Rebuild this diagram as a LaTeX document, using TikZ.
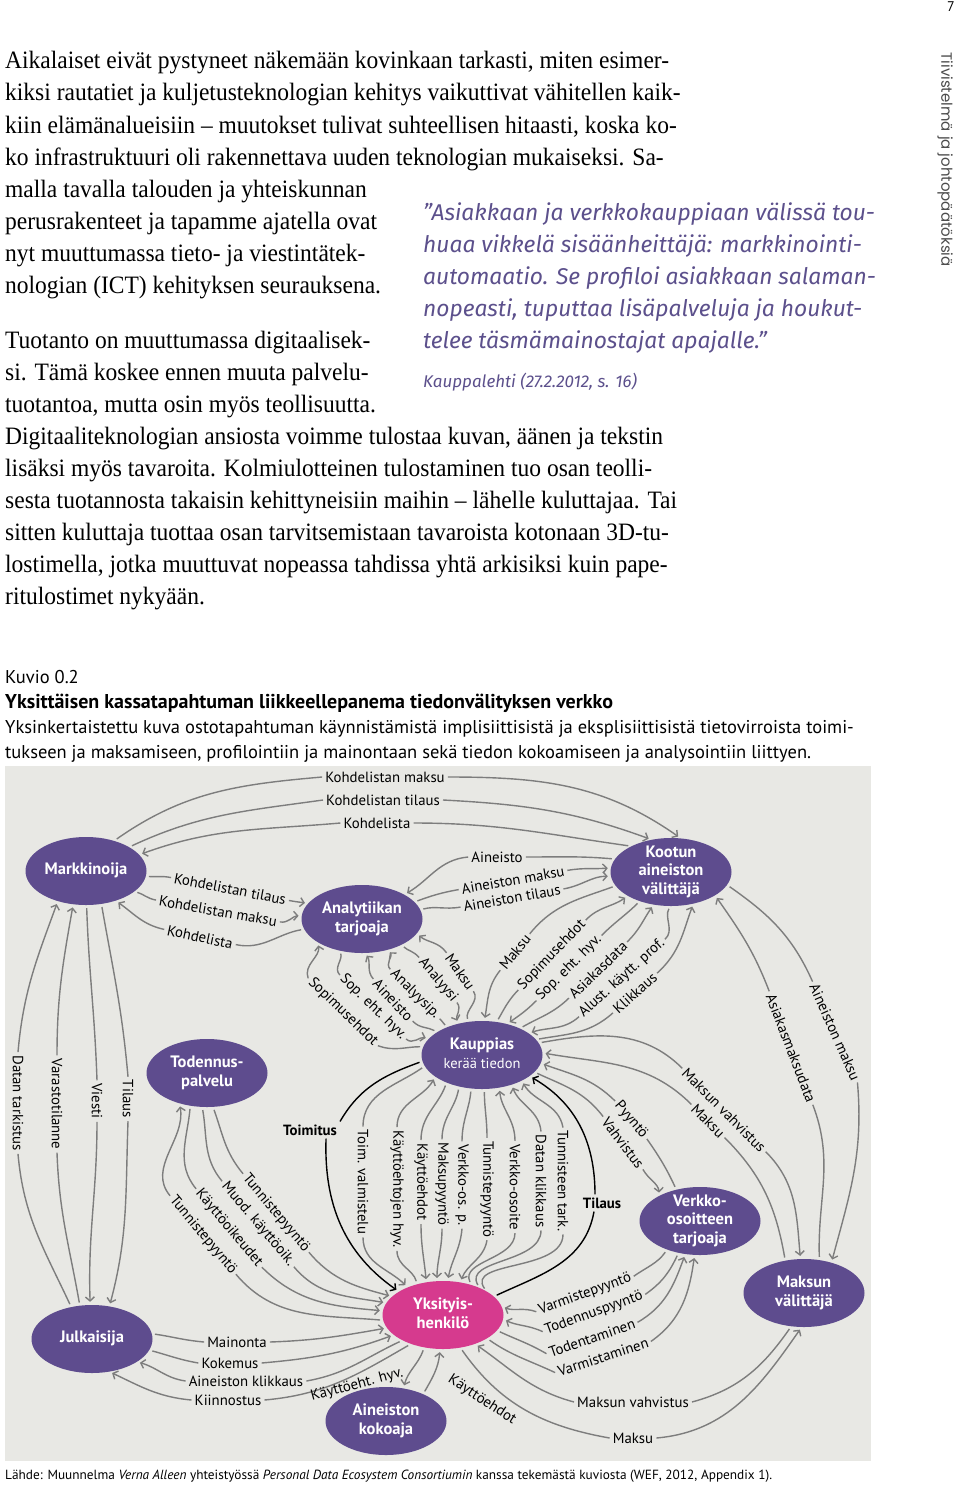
\documentclass[tikz,border=0pt]{standalone}
\usepackage{fontspec}
\setmainfont{Liberation Serif}
\newfontfamily\dsf{PT Sans}
\newfontfamily\bodyf[FakeStretch=0.94]{Liberation Serif}
\newfontfamily\qf{Fira Sans}
\newfontfamily\sidef{Poppins}
\usetikzlibrary{shapes.geometric,arrows.meta}
\definecolor{purp}{RGB}{94,76,142}
\definecolor{pinkn}{RGB}{214,58,142}
\definecolor{eg}{RGB}{125,125,125}
\definecolor{figbg}{RGB}{232,232,228}
\definecolor{quotec}{RGB}{92,80,140}
\newcommand\ntx[1]{\smash{\raisebox{-4.5pt}{\begin{tabular}{@{}c@{}}#1\end{tabular}}}}
\tikzset{
  actor/.style={ellipse, fill=purp, minimum width=121pt, minimum height=68pt, inner sep=0pt,
    text=white, font={\dsf\bfseries\fontsize{16.5}{18.5}\selectfont}},
  lb/.style={font={\dsf\fontsize{14.8}{16}\selectfont}, inner sep=3pt},
  lbb/.style={font={\dsf\bfseries\fontsize{14.8}{16}\selectfont}, inner sep=3pt},
  ln/.style={draw=eg, line width=1.4pt, shorten <=3pt},
  ar/.style={draw=eg, line width=1.4pt, shorten >=3pt, -{Straight Barb[length=4pt,width=9pt]}},
  lnk/.style={draw=black, line width=1.4pt, shorten <=3pt},
  ark/.style={draw=black, line width=1.4pt, shorten >=3pt, -{Straight Barb[length=4pt,width=9pt]}},
  bodytxt/.style={anchor=base west, inner sep=0pt, font={\bodyf\fontsize{25}{27}\selectfont}},
  qtxt/.style={anchor=base west, inner sep=0pt, text=quotec, font={\qf\itshape\fontsize{22.8}{25}\selectfont}},
  captxt/.style={anchor=base west, inner sep=0pt, font={\dsf\fontsize{18.5}{20}\selectfont}},
}
\begin{document}
\begin{tikzpicture}[x=1pt,y=1pt]
\useasboundingbox (0,0) rectangle (960,-1485);
\fill[white] (0,0) rectangle (960,-1485);

% page number and side text
\node[font={\dsf\fontsize{14}{16}\selectfont}] (pg) at (951,-7) {7};
\node[rotate=-90, anchor=west, text=black!70, font={\sidef\fontsize{15}{17}\selectfont}] (side) at (945,-49) {Tiivistelmä ja johtopäätöksiä};

% body text
\node[bodytxt] (b1) at (5,-69) {Aikalaiset eivät pystyneet näkemään kovinkaan tarkasti, miten esimer-};
\node[bodytxt] (b2) at (5,-101) {kiksi rautatiet ja kuljetusteknologian kehitys vaikuttivat vähitellen kaik-};
\node[bodytxt] (b3) at (5,-133) {kiin elämänalueisiin – muutokset tulivat suhteellisen hitaasti, koska ko-};
\node[bodytxt] (b4) at (5,-165) {ko infrastruktuuri oli rakennettava uuden teknologian mukaiseksi. Sa-};
\node[bodytxt] (b5) at (5,-197) {malla tavalla talouden ja yhteiskunnan};
\node[bodytxt] (b6) at (5,-229) {perusrakenteet ja tapamme ajatella ovat};
\node[bodytxt] (b7) at (5,-261) {nyt muuttumassa tieto- ja viestintätek-};
\node[bodytxt] (b8) at (5,-293) {nologian (ICT) kehityksen seurauksena.};
\node[bodytxt] (b9) at (5,-348) {Tuotanto on muuttumassa digitaalisek-};
\node[bodytxt] (b10) at (5,-380) {si. Tämä koskee ennen muuta palvelu-};
\node[bodytxt] (b11) at (5,-412) {tuotantoa, mutta osin myös teollisuutta.};
\node[bodytxt] (b12) at (5,-444) {Digitaaliteknologian ansiosta voimme tulostaa kuvan, äänen ja tekstin};
\node[bodytxt] (b13) at (5,-476) {lisäksi myös tavaroita. Kolmiulotteinen tulostaminen tuo osan teolli-};
\node[bodytxt] (b14) at (5,-508) {sesta tuotannosta takaisin kehittyneisiin maihin – lähelle kuluttajaa. Tai};
\node[bodytxt] (b15) at (5,-540) {sitten kuluttaja tuottaa osan tarvitsemistaan tavaroista kotonaan 3D-tu-};
\node[bodytxt] (b16) at (5,-572) {lostimella, jotka muuttuvat nopeassa tahdissa yhtä arkisiksi kuin pape-};
\node[bodytxt] (b17) at (5,-604) {ritulostimet nykyään.};

% quote
\node[qtxt] (q1) at (423,-220) {”Asiakkaan ja verkkokauppiaan välissä tou-};
\node[qtxt] (q2) at (423,-252) {huaa vikkelä sisäänheittäjä: markkinointi-};
\node[qtxt] (q3) at (423,-284) {automaatio. Se profiloi asiakkaan salaman-};
\node[qtxt] (q4) at (423,-316) {nopeasti, tuputtaa lisäpalveluja ja houkut-};
\node[qtxt] (q5) at (423,-348) {telee täsmämainostajat apajalle.”};
\node[qtxt, font={\qf\itshape\fontsize{17}{19}\selectfont}] (q6) at (423,-387) {Kauppalehti (27.2.2012, s. 16)};

% caption
\node[captxt] (c0) at (5,-683) {Kuvio 0.2};
\node[captxt, font={\dsf\bfseries\fontsize{20}{22}\selectfont}] (ct) at (5,-708) {Yksittäisen kassatapahtuman liikkeellepanema tiedonvälityksen verkko};
\node[captxt] (cd1) at (5,-733) {Yksinkertaistettu kuva ostotapahtuman käynnistämistä implisiittisistä ja eksplisiittisistä tietovirroista toimi-};
\node[captxt] (cd2) at (5,-758) {tukseen ja maksamiseen, profilointiin ja mainontaan sekä tiedon kokoamiseen ja analysointiin liittyen.};
\node[captxt, font={\dsf\fontsize{13.3}{15}\selectfont}] (src) at (5,-1479) {Lähde: Muunnelma \textit{Verna Alleen} yhteistyössä \textit{Personal Data Ecosystem Consortiumin} kanssa tekemästä kuviosta (WEF, 2012, Appendix 1).};

% figure background
\fill[figbg] (5,-766) rectangle (871,-1461);

% actors
\node[actor] (M) at (86,-871) {\ntx{Markkinoija}};
\node[actor] (A) at (362,-919) {\ntx{Analytiikan\\tarjoaja}};
\node[actor] (K) at (671,-872) {\ntx{Kootun\\aineiston\\välittäjä}};
\node[actor] (P) at (482,-1055) {\ntx{Kauppias\\\mdseries\fontsize{14.5}{16}\selectfont kerää tiedon}};
\node[actor] (T) at (207,-1073) {\ntx{Todennus-\\palvelu}};
\node[actor] (V) at (700,-1221) {\ntx{Verkko-\\osoitteen\\tarjoaja}};
\node[actor] (MV) at (804,-1293) {\ntx{Maksun\\välittäjä}};
\node[actor] (J) at (92,-1339) {\ntx{Julkaisija}};
\node[actor, fill=pinkn] (Y) at (443,-1315) {\ntx{Yksityis-\\henkilö}};
\node[actor] (AK) at (386,-1421) {\ntx{Aineiston\\kokoaja}};

% top arcs M <-> K
\node[lb] (t1) at (385,-777) {Kohdelistan maksu};
\node[lb] (t2) at (383,-800) {Kohdelistan tilaus};
\node[lb] (t3) at (377,-823) {Kohdelista};
\draw[ln] (M.47) to[out=35,in=185] (t1.west);
\draw[ar] (t1.east) to[out=0,in=145] (K.74);
\draw[ln] (M.29) to[out=25,in=188] (t2.west);
\draw[ar] (t2.east) to[out=-3,in=160] (K.121);
\draw[ln] (K.147) to[out=172,in=0] (t3.east);
\draw[ar] (t3.west) to[out=185,in=20] (M.17);

% M <-> A
\node[lb,rotate=-11] (m1) at (230,-889) {Kohdelistan tilaus};
\node[lb,rotate=-10] (m2) at (218,-911) {Kohdelistan maksu};
\node[lb,rotate=-12] (m3) at (200,-937) {Kohdelista};
\draw[ln] (M.-5) to[out=-5,in=169] (m1.west);
\draw[ar] (m1.east) to[out=-11,in=170] (A.164);
\draw[ln] (M.-23) to[out=-15,in=170] (m2.west);
\draw[ar] (m2.east) to[out=-10,in=180] (A.177);
\draw[ln] (A.190) to[out=190,in=-12] (m3.east);
\draw[ar] (m3.west) to[out=168,in=-35] (M.-45);

% A <-> K
\node[lb] (a1) at (497,-857) {Aineisto};
\node[lb,rotate=10] (a2) at (513,-880) {Aineiston maksu};
\node[lb,rotate=10] (a3) at (512,-898) {Aineiston tilaus};
\draw[ln] (K.167) to[out=175,in=0] (a1.east);
\draw[ar] (a1.west) to[out=185,in=30] (A.30);
\draw[ln] (A.18) to[out=20,in=190] (a2.west);
\draw[ar] (a2.east) to[out=10,in=185] (K.176);
\draw[ln] (A.9) to[out=15,in=190] (a3.west);
\draw[ar] (a3.east) to[out=10,in=180] (K.184);

% P <-> K
\node[lb,rotate=51] (k1) at (515,-952) {Maksu};
\node[lb,rotate=46] (k2) at (552,-955) {Sopimusehdot};
\node[lb,rotate=45] (k3) at (569,-968) {Sop. eht. hyv.};
\node[lb,rotate=44] (k4) at (598,-970) {Asiakasdata};
\node[lb,rotate=42] (k5) at (622,-978) {Alust. käytt. prof.};
\node[lb,rotate=42] (k6) at (635,-993) {Klikkaus};
\draw[ln] (K.194) to[out=200,in=51] (k1.east);
\draw[ar] (k1.west) to[out=231,in=80] (P.86);
\draw[ln] (P.66) to[out=60,in=226] (k2.west);
\draw[ar] (k2.east) to[out=46,in=215] (K.209);
\draw[ln] (K.223) to[out=225,in=45] (k3.east);
\draw[ar] (k3.west) to[out=225,in=35] (P.51);
\draw[ln] (P.35) to[out=30,in=224] (k4.west);
\draw[ar] (k4.east) to[out=44,in=235] (K.242);
\draw[ln] (K.-91) to[out=240,in=42] (k5.east);
\draw[ar] (k5.west) to[out=222,in=18] (P.25);
\draw[ln] (P.16) to[out=10,in=222] (k6.west);
\draw[ar] (k6.east) to[out=42,in=250] (K.-55);

% P <-> A
\node[lb,rotate=-44] (p1) at (343,-1012) {Sopimusehdot};
\node[lb,rotate=-44] (p2) at (373,-1007) {Sop. eht. hyv.};
\node[lb,rotate=-47] (p3) at (393,-1000) {Aineisto};
\node[lb,rotate=-45] (p4) at (415,-994) {Analyysip.};
\node[lb,rotate=-50] (p5) at (438,-980) {Analyysi};
\node[lb,rotate=-55] (p6) at (460,-972) {Maksu};
\draw[ln] (P.172) to[out=180,in=-20] (p1.east);
\draw[ar] (p1.west) to[out=110,in=-80] (A.208);
\draw[ln] (A.235) to[out=-70,in=136] (p2.west);
\draw[ar] (p2.east) to[out=-44,in=165] (P.163);
\draw[ln] (P.153) to[out=150,in=-47] (p3.east);
\draw[ar] (p3.west) to[out=133,in=-55] (A.-85);
\draw[ln] (P.141) to[out=140,in=-45] (p4.east);
\draw[ar] (p4.west) to[out=135,in=-50] (A.-50);
\draw[ln] (A.-33) to[out=-45,in=130] (p5.west);
\draw[ar] (p5.east) to[out=-50,in=110] (P.127);
\draw[ln] (P.112) to[out=110,in=-55] (p6.east);
\draw[ar] (p6.west) to[out=125,in=-40] (A.-15);

% M <-> J
\node[lb,rotate=-90] (v1) at (18,-1103) {Datan tarkistus};
\node[lb,rotate=-90] (v2) at (57,-1104) {Varastotilanne};
\node[lb,rotate=-90] (v3) at (97,-1101) {Viesti};
\node[lb,rotate=-90] (v4) at (128,-1099) {Tilaus};
\draw[ln] (J.123) to[out=115,in=-85] (v1.east);
\draw[ar] (v1.west) to[out=85,in=250] (M.227);
\draw[ln] (J.110) to[out=100,in=-88] (v2.east);
\draw[ar] (v2.west) to[out=90,in=260] (M.249);
\draw[ln] (M.-89) to[out=-88,in=92] (v3.west);
\draw[ar] (v3.east) to[out=-90,in=92] (J.93);
\draw[ln] (M.-65) to[out=-80,in=95] (v4.west);
\draw[ar] (v4.east) to[out=-92,in=75] (J.62);

% T <-> Y
\node[lb,rotate=-50] (d1) at (276,-1213) {Tunnistepyyntö};
\node[lb,rotate=-50] (d2) at (258,-1224) {Muod. käyttöoik.};
\node[lb,rotate=-50] (d3) at (229,-1228) {Käyttöoikeudet};
\node[lb,rotate=-50] (d4) at (203,-1235) {Tunnistepyyntö};
\draw[ln] (T.-80) to[out=-70,in=130] (d1.west);
\draw[ar] (d1.east) to[out=-50,in=165] (Y.160);
\draw[ln] (T.-98) to[out=-80,in=130] (d2.west);
\draw[ar] (d2.east) to[out=-50,in=170] (Y.168);
\draw[ln] (T.-117) to[out=-95,in=130] (d3.west);
\draw[ar] (d3.east) to[out=-45,in=175] (Y.176);
\draw[ln] (Y.185) to[out=175,in=-50] (d4.east);
\draw[ar] (d4.west) to[out=130,in=-80] (T.-132);

% P <-> Y
\node[lbb] (toim) at (310,-1130) {Toimitus};
\draw[lnk] (P.186) to[out=200,in=60] (toim.north east);
\draw[ark] ([xshift=-14pt]toim.south east) to[out=-92,in=145] (Y.152);
\node[lb,rotate=-90] (c1) at (363,-1182) {Toim. valmistelu};
\node[lb,rotate=-90] (c2) at (397,-1189) {Käyttöehtojen hyv.};
\node[lb,rotate=-90] (c3) at (421,-1182) {Käyttöehdot};
\node[lb,rotate=-90] (c4) at (442,-1184) {Maksupyyntö};
\node[lb,rotate=-90] (c5) at (462,-1185) {Verkko-os. p.};
\node[lb,rotate=-90] (c6) at (487,-1189) {Tunnistepyyntö};
\node[lb,rotate=-90] (c7) at (515,-1187) {Verkko-osoite};
\node[lb,rotate=-90] (c8) at (541,-1181) {Datan klikkaus};
\node[lb,rotate=-90] (c9) at (563,-1181) {Tunnisteen tark.};
\draw[ln] (P.191) to[out=215,in=90] (c1.west);
\draw[ar] (c1.east) to[out=-90,in=135] (Y.142);
\draw[ln] (Y.130) to[out=105,in=-90] (c2.east);
\draw[ar] (c2.west) to[out=90,in=240] (P.205);
\draw[ln] (P.218) to[out=250,in=90] (c3.west);
\draw[ar] (c3.east) to[out=-90,in=95] (Y.117);
\draw[ln] (P.234) to[out=260,in=90] (c4.west);
\draw[ar] (c4.east) to[out=-90,in=90] (Y.100);
\draw[ln] (P.252) to[out=265,in=90] (c5.west);
\draw[ar] (c5.east) to[out=-95,in=80] (Y.82);
\draw[ln] (P.274) to[out=270,in=90] (c6.west);
\draw[ar] (c6.east) to[out=-100,in=70] (Y.62);
\draw[ln] (Y.47) to[out=115,in=-90] (c7.east);
\draw[ar] (c7.west) to[out=90,in=-85] (P.298);
\draw[ln] (Y.37) to[out=120,in=-90] (c8.east);
\draw[ar] (c8.west) to[out=95,in=-70] (P.315);
\draw[ln] (Y.29) to[out=125,in=-90] (c9.east);
\draw[ar] (c9.west) to[out=100,in=-60] (P.327);
\node[lbb] (til) at (602,-1203) {Tilaus};
\draw[lnk] (Y.20) to[out=25,in=-100] ([xshift=-8pt]til.south);
\draw[ark] ([xshift=-7pt]til.north) to[out=90,in=-30] (P.-24);

% P <-> V, MV
\node[lb,rotate=-45] (r1) at (724,-1110) {Maksun vahvistus};
\node[lb,rotate=-45] (r2) at (708,-1121) {Maksu};
\node[lb,rotate=-50] (r3) at (631,-1120) {Pyyntö};
\node[lb,rotate=-53] (r4) at (623,-1143) {Vahvistus};
\draw[ln] (P.12) to[out=10,in=135] (r1.west);
\draw[ar] (r1.east) to[out=-45,in=95] (MV.96);
\draw[ln] (MV.120) to[out=100,in=-45] (r2.east);
\draw[ar] (r2.west) to[out=135,in=-10] (P.2);
\draw[ln] (V.127) to[out=115,in=-55] (r3.east);
\draw[ar] (r3.west) to[out=135,in=-20] (P.-8);
\draw[ln] (P.-18) to[out=-25,in=127] (r4.west);
\draw[ar] (r4.east) to[out=-60,in=95] (V.148);

% K <-> MV
\node[lb,rotate=-69] (s1) at (791,-1048) {Asiakasmaksudata};
\node[lb,rotate=-66] (s2) at (835,-1032) {Aineiston maksu};
\draw[ln] (MV.65) to[out=92,in=-69] (s1.east);
\draw[ar] (s1.west) to[out=111,in=-55] (K.-28);
\draw[ln] (K.-13) to[out=-35,in=114] (s2.west);
\draw[ar] (s2.east) to[out=-85,in=75] (MV.48);

% Y <-> J
\node[lb] (j1) at (237,-1342) {Mainonta};
\node[lb] (j2) at (230,-1363) {Kokemus};
\node[lb] (j3) at (246,-1381) {Aineiston klikkaus};
\node[lb] (j4) at (228,-1400) {Kiinnostus};
\draw[ln] (J.5) to[out=-8,in=175] (j1.west);
\draw[ar] (j1.east) to[out=2,in=190] (Y.193);
\draw[ln] (J.-11) to[out=-15,in=170] (j2.west);
\draw[ar] (j2.east) to[out=5,in=200] (Y.202);
\draw[ln] (Y.212) to[out=205,in=10] (j3.east);
\draw[ar] (j3.west) to[out=172,in=-15] (J.-27);
\draw[ln] (Y.222) to[out=210,in=5] (j4.east);
\draw[ar] (j4.west) to[out=175,in=-25] (J.-62);

% Y <-> AK
\node[lb,rotate=15] (e1) at (357,-1385) {Käyttöeht. hyv.};
\draw[ar, shorten <=3pt] (Y.240) to[out=250,in=75] (AK.62);
\node[lb,rotate=-33] (e2) at (482,-1400) {Käyttöehdot};
\draw[ar, shorten <=3pt] (AK.36) to[out=60,in=265] (Y.265);

% Y <-> MV
\node[lb] (w1) at (633,-1402) {Maksun vahvistus};
\node[lb] (w2) at (633,-1438) {Maksu};
\draw[ln] (MV.249) to[out=235,in=15] (w1.east);
\draw[ar] (w1.west) to[out=165,in=-35] (Y.-42);
\draw[ln] (Y.-62) to[out=-55,in=170] (w2.west);
\draw[ar] (w2.east) to[out=5,in=235] (MV.266);

% Y <-> V
\node[lb,rotate=20] (x1) at (585,-1294) {Varmistepyyntö};
\node[lb,rotate=20] (x2) at (594,-1313) {Todennuspyyntö};
\node[lb,rotate=19] (x3) at (592,-1338) {Todentaminen};
\node[lb,rotate=18] (x4) at (603,-1357) {Varmistaminen};
\draw[ln] (V.221) to[out=235,in=35] (x1.east);
\draw[ar] (x1.west) to[out=160,in=-20] (Y.8);
\draw[ln] (V.236) to[out=245,in=35] (x2.east);
\draw[ar] (x2.west) to[out=155,in=-25] (Y.-4);
\draw[ln] (Y.-16) to[out=-25,in=150] (x3.west);
\draw[ar] (x3.east) to[out=30,in=250] (V.246);
\draw[ln] (Y.-28) to[out=-35,in=155] (x4.west);
\draw[ar] (x4.east) to[out=35,in=262] (V.261);
\end{tikzpicture}
\end{document}
